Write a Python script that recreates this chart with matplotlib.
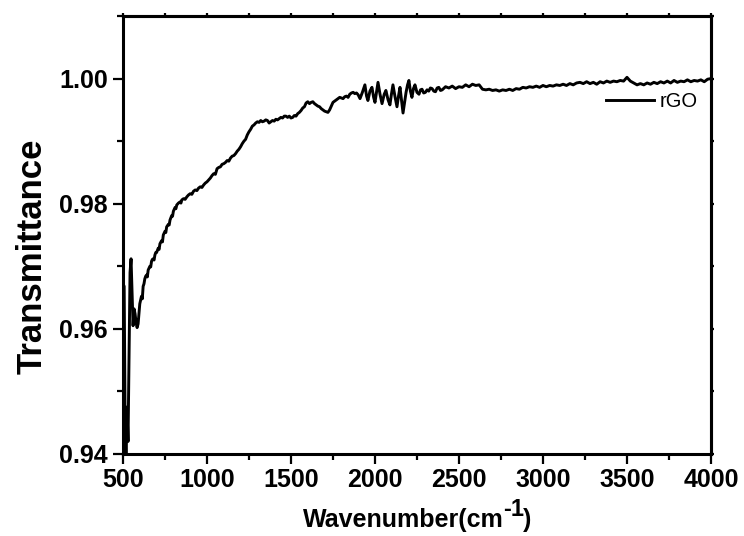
import numpy as np
import matplotlib
matplotlib.use("Agg")
import matplotlib.pyplot as plt
from matplotlib.ticker import MultipleLocator, FormatStrFormatter

plt.rcParams['font.family'] = ['Liberation Sans', 'DejaVu Sans']
plt.rcParams['font.weight'] = 'bold'

# FTIR spectrum of rGO (wavenumber in cm-1, transmittance)
wavenumber = [
    500, 507, 513, 518, 524, 530, 536, 542, 548, 554, 560, 566, 572, 578, 584, 590,
    596, 600, 610, 615, 620, 625, 630, 635, 640, 645, 650, 655, 660, 665, 670, 675,
    680, 685, 690, 695, 700, 710, 715, 720, 730, 735, 740, 750, 755, 760, 770, 775,
    780, 790, 795, 800, 810, 815, 820, 830, 840, 845, 850, 860, 870, 880, 890, 900,
    910, 920, 930, 940, 950, 960, 970, 980, 990, 1000, 1010, 1020, 1030, 1040, 1050,
    1060, 1070, 1080, 1090, 1100, 1110, 1120, 1130, 1140, 1150, 1160, 1170, 1180,
    1190, 1200, 1210, 1220, 1230, 1240, 1250, 1260, 1270, 1280, 1290, 1300, 1310,
    1320, 1330, 1340, 1350, 1360, 1370, 1380, 1390, 1400, 1410, 1420, 1430, 1440,
    1450, 1460, 1470, 1480, 1490, 1500, 1510, 1520, 1530, 1540, 1550, 1560, 1570,
    1580, 1590, 1600, 1610, 1620, 1630, 1640, 1650, 1660, 1670, 1680, 1690, 1700,
    1710, 1720, 1730, 1740, 1750, 1760, 1770, 1780, 1790, 1800, 1810, 1820, 1830,
    1840, 1850, 1860, 1870, 1880, 1890, 1900, 1911, 1925, 1940, 1950, 1958, 1970,
    1982, 1992, 2000, 2010, 2018, 2030, 2042, 2055, 2065, 2078, 2089, 2098, 2107,
    2120, 2131, 2140, 2149, 2158, 2167, 2176, 2185, 2194, 2202, 2211, 2220, 2229,
    2238, 2250, 2262, 2271, 2280, 2290, 2300, 2310, 2320, 2330, 2340, 2350, 2360,
    2370, 2380, 2390, 2400, 2420, 2440, 2460, 2480, 2500, 2520, 2540, 2560, 2580,
    2600, 2620, 2640, 2660, 2680, 2700, 2720, 2740, 2760, 2780, 2800, 2820, 2840,
    2860, 2880, 2900, 2920, 2940, 2960, 2980, 3000, 3020, 3040, 3060, 3080, 3100,
    3120, 3140, 3160, 3180, 3200, 3220, 3240, 3260, 3280, 3300, 3320, 3340, 3360,
    3380, 3400, 3420, 3440, 3460, 3480, 3500, 3520, 3540, 3560, 3580, 3600, 3620,
    3640, 3660, 3680, 3700, 3720, 3740, 3760, 3780, 3800, 3820, 3840, 3860, 3880,
    3900, 3920, 3940, 3960, 3980, 4000]
transmittance = [
    0.9672, 0.9668, 0.9440, 0.9380, 0.9475, 0.9420, 0.9560, 0.9690, 0.9712, 0.9660,
    0.9605, 0.9632, 0.9624, 0.9610, 0.9602, 0.9608, 0.9628, 0.9640, 0.9652, 0.9648,
    0.9668, 0.9672, 0.9680, 0.9684, 0.9686, 0.9683, 0.9694, 0.9697, 0.9700, 0.9699,
    0.9708, 0.9711, 0.9712, 0.9710, 0.9718, 0.9722, 0.9722, 0.9729, 0.9727, 0.9736,
    0.9741, 0.9739, 0.9750, 0.9756, 0.9754, 0.9763, 0.9767, 0.9766, 0.9774, 0.9781,
    0.9780, 0.9788, 0.9794, 0.9792, 0.9798, 0.9801, 0.9803, 0.9801, 0.9806, 0.9808,
    0.9807, 0.9811, 0.9814, 0.9816, 0.9815, 0.9820, 0.9822, 0.9821, 0.9825, 0.9827,
    0.9826, 0.9830, 0.9833, 0.9835, 0.9838, 0.9841, 0.9845, 0.9848, 0.9847, 0.9856,
    0.9858, 0.9859, 0.9863, 0.9864, 0.9866, 0.9869, 0.9868, 0.9873, 0.9876, 0.9877,
    0.9880, 0.9884, 0.9887, 0.9891, 0.9896, 0.9900, 0.9903, 0.9910, 0.9915, 0.9919,
    0.9924, 0.9926, 0.9929, 0.9931, 0.9930, 0.9933, 0.9931, 0.9932, 0.9934, 0.9933,
    0.9929, 0.9931, 0.9933, 0.9932, 0.9935, 0.9934, 0.9936, 0.9938, 0.9937, 0.9940,
    0.9940, 0.9938, 0.9940, 0.9937, 0.9938, 0.9941, 0.9940, 0.9944, 0.9946, 0.9949,
    0.9953, 0.9955, 0.9961, 0.9963, 0.9960, 0.9962, 0.9963, 0.9960, 0.9958, 0.9956,
    0.9955, 0.9952, 0.9950, 0.9948, 0.9947, 0.9946, 0.9950, 0.9956, 0.9962, 0.9964,
    0.9966, 0.9968, 0.9970, 0.9969, 0.9968, 0.9971, 0.9972, 0.9970, 0.9975, 0.9977,
    0.9978, 0.9976, 0.9977, 0.9974, 0.9968, 0.9978, 0.9990, 0.9972, 0.9965, 0.9980,
    0.9986, 0.9970, 0.9962, 0.9980, 0.9994, 0.9975, 0.9960, 0.9975, 0.9981, 0.9966,
    0.9958, 0.9975, 0.9990, 0.9970, 0.9955, 0.9972, 0.9986, 0.9966, 0.9945, 0.9962,
    0.9978, 0.9990, 0.9997, 0.9980, 0.9970, 0.9984, 0.9990, 0.9978, 0.9975, 0.9982,
    0.9983, 0.9977, 0.9978, 0.9982, 0.9980, 0.9985, 0.9984, 0.9980, 0.9979, 0.9985,
    0.9986, 0.9981, 0.9982, 0.9987, 0.9985, 0.9988, 0.9984, 0.9987, 0.9986, 0.9990,
    0.9987, 0.9991, 0.9989, 0.9990, 0.9983, 0.9982, 0.9983, 0.9981, 0.9982, 0.9980,
    0.9982, 0.9981, 0.9983, 0.9981, 0.9984, 0.9983, 0.9986, 0.9985, 0.9987, 0.9986,
    0.9988, 0.9986, 0.9989, 0.9987, 0.9989, 0.9988, 0.9990, 0.9989, 0.9991, 0.9989,
    0.9992, 0.9990, 0.9993, 0.9994, 0.9992, 0.9995, 0.9992, 0.9994, 0.9991, 0.9995,
    0.9993, 0.9996, 0.9994, 0.9996, 0.9995, 0.9997, 0.9996, 1.0002, 0.9996, 0.9993,
    0.9990, 0.9992, 0.9990, 0.9993, 0.9991, 0.9994, 0.9992, 0.9995, 0.9993, 0.9996,
    0.9993, 0.9997, 0.9994, 0.9996, 0.9995, 0.9998, 0.9995, 0.9997, 0.9996, 0.9998,
    0.9995, 0.9999, 1.0000]

x_major = 500
y_major = 0.02

fig = plt.figure(figsize=(7.44, 5.36), dpi=100)
ax = fig.add_axes([0.1653, 0.1530, 0.7903, 0.8171])

ax.plot(wavenumber, transmittance, color='black', lw=2.1, label='rGO')

ax.set_xlim(500, 4000)
ax.set_ylim(0.94, 1.01)
ax.xaxis.set_major_locator(MultipleLocator(x_major))
ax.xaxis.set_minor_locator(MultipleLocator(x_major / 2))
ax.yaxis.set_major_locator(MultipleLocator(y_major))
ax.yaxis.set_minor_locator(MultipleLocator(y_major / 2))
ax.yaxis.set_major_formatter(FormatStrFormatter('%.2f'))

for s in ax.spines.values():
    s.set_linewidth(2.2)
ax.tick_params(which='major', direction='out', length=7, width=1.6, labelsize=18)
ax.tick_params(which='minor', direction='out', length=4, width=1.6)
ax.tick_params(axis='x', which='major', pad=3)
ax.tick_params(axis='y', which='major', pad=4)

# short ticks on the top and right frame
secx = ax.secondary_xaxis('top')
secx.xaxis.set_major_locator(MultipleLocator(x_major / 2))
secx.tick_params(direction='out', length=2, width=1.6, labeltop=False)
secy = ax.secondary_yaxis('right')
secy.yaxis.set_major_locator(MultipleLocator(y_major / 2))
secy.tick_params(direction='out', length=2, width=1.6, labelright=False)
for sa in (secx, secy):
    for s in sa.spines.values():
        s.set_linewidth(2.2)

ax.set_ylabel('Transmittance', fontsize=25, fontweight='bold')
ax.yaxis.set_label_coords(-0.127, 0.452)

# x label with a large raised "-1"
base_y = 1 - 527 / 536
t1 = fig.text(303 / 744, base_y, 'Wavenumber(cm', fontsize=18,
              fontweight='bold', ha='left', va='baseline')
fig.canvas.draw()
r = fig.canvas.get_renderer()
bb = t1.get_window_extent(r)
t2 = fig.text((bb.x1 - 1) / 744, base_y + 11 / 536, '-1', fontsize=17,
              fontweight='bold', ha='left', va='baseline')
bb2 = t2.get_window_extent(r)
fig.text((bb2.x1 - 0.5) / 744, base_y, ')', fontsize=18,
         fontweight='bold', ha='left', va='baseline')

ax.legend(loc='center right', bbox_to_anchor=(0.977, 0.805), frameon=False,
          handlelength=2.4, handletextpad=0.25, borderpad=0, borderaxespad=0,
          prop={'family': 'Liberation Sans', 'weight': 'normal', 'size': 14.5})

fig.savefig('out.png', dpi=100)
